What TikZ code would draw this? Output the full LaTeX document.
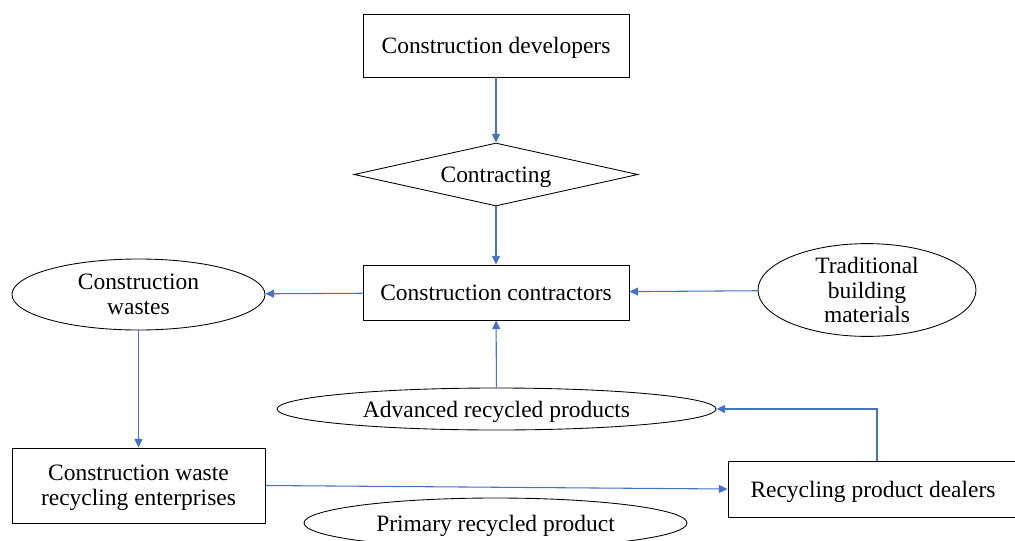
\documentclass[tikz,border=0pt]{standalone}
\usepackage{fontspec}
\setmainfont{Liberation Serif}
\usetikzlibrary{shapes.geometric,arrows.meta}
\definecolor{arrowblue}{HTML}{4472C4}
\begin{document}
\begin{tikzpicture}[x=0.75pt,y=-0.75pt,
  every node/.style={font=\fontsize{17.6}{18.5}\selectfont, align=center, inner sep=0pt, line width=0.65pt, draw=black, text depth=0pt},
  box/.style={rectangle},
  oval/.style={ellipse},
  decision/.style={diamond},
  link/.style={draw=arrowblue, line width=0.8pt, -{Triangle[length=6.5pt,width=6pt]}}]
\clip (0,0) rectangle (1015,540);
\useasboundingbox (0,0) rectangle (1015,540);
\node[box, minimum width=266*0.75pt, minimum height=63*0.75pt] (dev) at (496,45.5) {Construction developers};
\node[decision, minimum width=284*0.75pt, minimum height=63*0.75pt, aspect=4.5] (con) at (496,174.5) {Contracting};
\node[box, minimum width=266*0.75pt, minimum height=55*0.75pt] (ctr) at (496,292.5) {Construction contractors};
\node[oval, minimum width=253*0.75pt, minimum height=71*0.75pt] (was) at (138.5,294.5) {Construction\\wastes};
\node[oval, minimum width=218*0.75pt, minimum height=86*0.75pt] (tra) at (867,290) {Traditional\\building\\materials};
\node[oval, minimum width=439*0.75pt, minimum height=42*0.75pt] (adv) at (496.5,409) {Advanced recycled products};
\node[box, minimum width=253*0.75pt, minimum height=75*0.75pt] (ent) at (138.5,485.5) {Construction waste\\recycling enterprises};
\node[box, minimum width=290*0.75pt, minimum height=56*0.75pt] (dea) at (873,489) {Recycling product dealers};
\node[oval, minimum width=383*0.75pt, minimum height=50*0.75pt] (pri) at (495.5,523) {Primary recycled product};
\coordinate (bend) at (877,409);
\draw[link] (dev) -- (con);
\draw[link] (con) -- (ctr);
\draw[link] (ctr) -- (was);
\draw[link] (tra) -- (ctr);
\draw[link] (adv) -- (ctr);
\draw[link] (was) -- (ent);
\draw[link] (ent.east) -- (dea.west);
\draw[link] (dea.north -| bend) -- (bend) -- (adv.east);
\end{tikzpicture}
\end{document}
